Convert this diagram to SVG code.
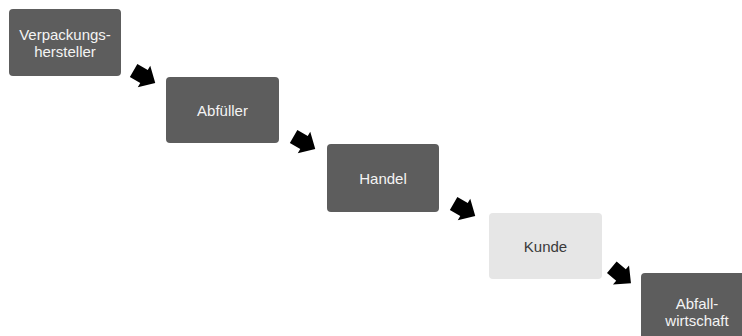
<svg xmlns="http://www.w3.org/2000/svg" width="742" height="336" viewBox="0 0 742 336">
<style>
.box{fill:#5d5d5d;}
.light{fill:#e6e6e6;}
.t{font-family:"Liberation Sans",Arial,sans-serif;font-size:15px;fill:#f4f4f4;text-anchor:middle;}
.tl{fill:#3a3a3a;}
.arr{fill:#000;}
</style>
<defs>
<path id="ar" d="M-12,-7.5 L0,-7.5 L0,-12.5 L13,0 L0,12.5 L0,7.5 L-12,7.5 Z"/>
</defs>
<rect width="742" height="336" fill="#fff"/>
<g id="n1"><rect class="box" x="9" y="9" width="112" height="67" rx="4"/><text class="t" x="65" y="40">Verpackungs-</text><text class="t" x="65" y="57">hersteller</text></g>
<g id="n2"><rect class="box" x="166" y="77" width="113" height="66" rx="4"/><text class="t" x="222.5" y="116">Abfüller</text></g>
<g id="n3"><rect class="box" x="327" y="144" width="112" height="68" rx="4"/><text class="t" x="383" y="184">Handel</text></g>
<g id="n4"><rect class="light" x="489" y="213" width="113" height="66" rx="4"/><text class="t tl" x="545.5" y="251.5">Kunde</text></g>
<g id="n5"><rect class="box" x="641" y="273" width="112" height="70" rx="4"/><text class="t" x="697" y="309">Abfall-</text><text class="t" x="697" y="326">wirtschaft</text></g>
<g id="connectors">
<use href="#ar" class="arr" transform="translate(144,76.5) rotate(30)"/>
<use href="#ar" class="arr" transform="translate(304,142.5) rotate(30)"/>
<use href="#ar" class="arr" transform="translate(464,209.5) rotate(30)"/>
<use href="#ar" class="arr" transform="translate(621,275) rotate(40)"/>
</g>
</svg>
